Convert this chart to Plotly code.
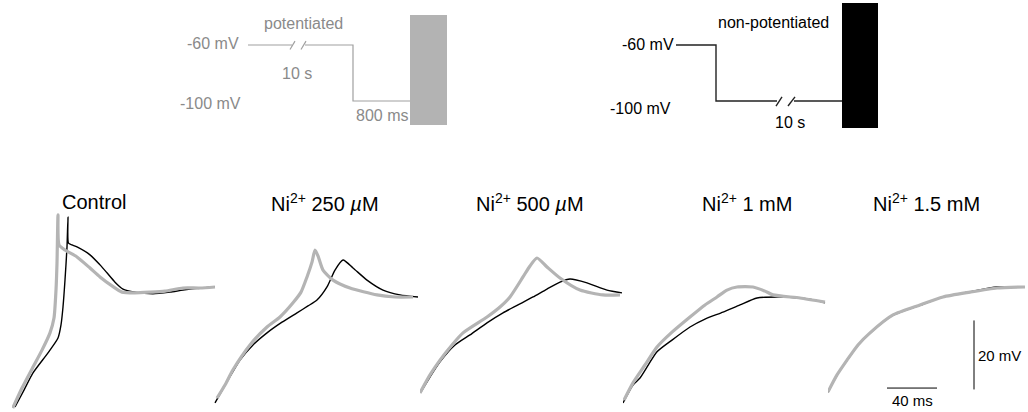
import plotly.graph_objects as go

W, H = 1028, 412

# ---------------- data: voltage traces (time in ms, voltage in mV) ----------------
panel_titles = ["Control", "Ni<sup>2+</sup> 250 <i>µ</i>M", "Ni<sup>2+</sup> 500 <i>µ</i>M",
                "Ni<sup>2+</sup> 1 mM", "Ni<sup>2+</sup> 1.5 mM"]

ctrl_np_t = [2.4, 9.6, 16.8, 28.8, 36.8, 39.2, 40.8, 42.4, 44.0, 44.8, 45.2, 48.0, 52.0, 62.4, 70.4,
             76.0, 82.4, 88.8, 98.4, 112.8, 126.4, 136.8, 150.4, 162.4]
ctrl_np_v = [-100.3, -95.4, -90.4, -84.6, -80.3, -76.5, -71.3, -63.5, -53.9, -45.2, -52.8, -53.3, -53.9,
             -56.2, -59.1, -61.4, -64.1, -66.1, -67.0, -67.5, -67.0, -66.4, -65.8, -65.5]
ctrl_p_t = [0.6, 8.0, 16.8, 24.0, 30.4, 33.6, 35.2, 36.0, 36.8, 37.6, 42.4, 52.0, 62.4, 70.4, 80.0,
            88.0, 98.4, 110.4, 122.4, 136.8, 150.4, 162.4]
ctrl_p_v = [-100.6, -94.8, -88.7, -83.8, -78.8, -74.5, -66.4, -58.6, -44.6, -53.3, -54.8, -56.8, -60.0,
            -62.6, -65.2, -67.0, -67.2, -67.0, -66.7, -65.8, -65.8, -65.5]

n250_np_t = [0.8, 11.2, 20.8, 31.2, 42.4, 54.4, 66.4, 75.2, 82.4, 90.4, 96.8, 103.2, 111.2, 122.4,
             135.2, 148.8, 163.2]
n250_np_v = [-99.1, -92.5, -86.7, -82.3, -78.8, -75.7, -73.0, -71.0, -69.3, -65.5, -60.6, -57.7, -60.0,
             -63.5, -66.4, -67.8, -68.4]
n250_p_t = [2.4, 8.8, 15.2, 28.8, 42.4, 52.8, 63.2, 69.6, 74.4, 78.4, 80.8, 83.2, 87.2, 95.2, 108.8,
            130.4, 144.8, 159.2]
n250_p_v = [-97.7, -93.9, -89.5, -82.3, -77.1, -74.2, -70.1, -67.0, -62.6, -58.3, -54.8, -56.5, -60.6,
            -63.5, -65.8, -67.8, -68.4, -68.4]

n500_np_t = [0.8, 8.0, 16.0, 28.0, 40.0, 53.6, 66.4, 78.4, 90.4, 101.6, 112.0, 120.0, 133.6, 149.6, 161.6]
n500_np_v = [-95.9, -91.6, -87.2, -82.3, -79.4, -75.9, -73.0, -70.7, -68.4, -66.1, -64.1, -63.2, -64.3,
             -66.4, -67.2]
n500_p_t = [0.0, 8.0, 16.0, 25.6, 34.4, 53.6, 64.0, 72.0, 82.4, 88.0, 93.6, 101.6, 112.0, 128.0, 146.4, 160.0]
n500_p_v = [-96.2, -91.0, -86.7, -82.3, -78.8, -74.2, -71.3, -68.4, -62.6, -59.4, -57.1, -59.7, -62.9,
            -66.4, -67.8, -67.8]

n1_np_t = [0.0, 8.0, 13.6, 27.2, 39.2, 53.6, 65.6, 80.0, 93.6, 107.2, 125.6, 141.6, 153.6, 161.6]
n1_np_v = [-99.1, -93.9, -91.9, -84.3, -80.9, -77.1, -74.8, -72.8, -70.7, -68.7, -68.4, -68.7, -69.3, -70.1]
n1_p_t = [0.8, 8.0, 17.6, 27.2, 39.2, 53.6, 65.6, 75.2, 83.2, 91.2, 104.0, 113.6, 120.0, 141.6, 161.6]
n1_p_v = [-98.3, -93.3, -88.1, -82.9, -78.6, -74.2, -70.7, -68.4, -66.4, -65.5, -65.5, -66.7, -67.8,
          -68.7, -69.9]

n15_np_t = [0.0, 7.2, 15.2, 24.0, 33.6, 52.0, 73.6, 92.0, 113.6, 135.2, 155.0]
n15_np_v = [-96.0, -91.1, -86.8, -82.4, -78.9, -73.7, -70.8, -68.4, -66.9, -65.5, -65.6]
n15_p_t = [0.0, 7.2, 15.2, 24.0, 33.6, 52.0, 73.6, 92.0, 113.6, 135.2, 157.6]
n15_p_v = [-95.9, -91.0, -86.7, -82.3, -78.8, -73.6, -70.7, -68.4, -67.0, -65.8, -65.5]

panels = [
    (ctrl_np_t, ctrl_np_v, ctrl_p_t, ctrl_p_v),
    (n250_np_t, n250_np_v, n250_p_t, n250_p_v),
    (n500_np_t, n500_np_v, n500_p_t, n500_p_v),
    (n1_np_t, n1_np_v, n1_p_t, n1_p_v),
    (n15_np_t, n15_np_v, n15_p_t, n15_p_v),
]

# scale bars (ms, mV)
bar_t = [40]
bar_v = [20]

# ---------------- protocol schematics (schematic units, mV) ----------------
proto_levels = [-60, -100]

GRAY_TR = "#b4b4b4"
GRAY_TXT = "#8a8a8a"
GRAY_LINE = "#a0a0a0"
BLACK = "#000000"
FONT = "Liberation Sans, Arial, Helvetica, sans-serif"

fig = go.Figure()

# panel layout
panel_x0 = [12, 214, 420, 623, 828]
px_per_ms = 1.25
px_per_mv = 3.45
y_top_px, y_bot_px = 200, 412
v_bot = -100 + (406 - y_bot_px) / px_per_mv
v_top = v_bot + (y_bot_px - y_top_px) / px_per_mv

layout_axes = {}
for i, (x0, (tn, vn, tp, vp)) in enumerate(zip(panel_x0, panels)):
    k = "" if i == 0 else str(i + 1)
    x1 = min(W, x0 + 205)
    layout_axes["xaxis" + k] = dict(domain=[x0 / W, x1 / W], range=[0, (x1 - x0) / px_per_ms],
                                    visible=False, anchor="y" + k)
    layout_axes["yaxis" + k] = dict(domain=[0, (H - y_top_px) / H], range=[v_bot, v_top],
                                    visible=False, anchor="x" + k)
    fig.add_trace(go.Scatter(x=tn, y=vn, mode="lines",
                             line=dict(color=BLACK, width=1.4, shape="spline", smoothing=0.6),
                             xaxis="x" + k, yaxis="y" + k, showlegend=False, hoverinfo="skip"))
    fig.add_trace(go.Scatter(x=tp, y=vp, mode="lines",
                             line=dict(color=GRAY_TR, width=3.2, shape="spline", smoothing=0.6),
                             xaxis="x" + k, yaxis="y" + k, showlegend=False, hoverinfo="skip"))

# scale bars in last panel
tb0, vb0 = 47.2, -94.8
fig.add_trace(go.Scatter(x=[tb0, tb0 + bar_t[0]], y=[vb0, vb0], mode="lines",
                         line=dict(color=BLACK, width=1), xaxis="x5", yaxis="y5",
                         showlegend=False, hoverinfo="skip"))
fig.add_trace(go.Scatter(x=[116.8, 116.8], y=[-95.2, -95.2 + bar_v[0]], mode="lines",
                         line=dict(color=BLACK, width=1), xaxis="x5", yaxis="y5",
                         showlegend=False, hoverinfo="skip"))

# protocol axes
p_v_top = -60 + 45 / 1.4
p_v_bot = p_v_top - 140 / 1.4
layout_axes["xaxis6"] = dict(domain=[170 / W, 470 / W], range=[0, 300], visible=False, anchor="y6")
layout_axes["yaxis6"] = dict(domain=[1 - 140 / H, 1], range=[p_v_bot, p_v_top], visible=False, anchor="x6")
layout_axes["xaxis7"] = dict(domain=[600 / W, 900 / W], range=[0, 300], visible=False, anchor="y7")
layout_axes["yaxis7"] = dict(domain=[1 - 140 / H, 1], range=[p_v_bot, p_v_top], visible=False, anchor="x7")

hold, hyp = proto_levels
# potentiated (gray)
pot_segments = [
    ([78, 122], [hold, hold]),
    ([120, 125], [hold - 3.2, hold + 2.8]),
    ([131, 136], [hold - 3.2, hold + 2.8]),
    ([135, 183, 183, 240], [hold, hold, hyp, hyp]),
]
for xs, ys in pot_segments:
    fig.add_trace(go.Scatter(x=xs, y=ys, mode="lines", line=dict(color=GRAY_LINE, width=1.2),
                             xaxis="x6", yaxis="y6", showlegend=False, hoverinfo="skip"))
# non-potentiated (black)
np_segments = [
    ([76, 116, 116, 177], [hold, hold, hyp, hyp]),
    ([176, 182], [hyp - 3.6, hyp + 3.0]),
    ([188, 195], [hyp - 3.6, hyp + 3.0]),
    ([194, 242], [hyp, hyp]),
]
for xs, ys in np_segments:
    fig.add_trace(go.Scatter(x=xs, y=ys, mode="lines", line=dict(color="#222222", width=1.4),
                             xaxis="x7", yaxis="y7", showlegend=False, hoverinfo="skip"))

shapes = [
    dict(type="rect", xref="x6", yref="y6", x0=240, x1=277, y0=-117.1, y1=-38.6,
         fillcolor="#b3b3b3", line=dict(width=0), layer="above"),
    dict(type="rect", xref="x7", yref="y7", x0=242, x1=278, y0=-119.3, y1=-30.0,
         fillcolor="#000000", line=dict(width=0), layer="above"),
]

def px(x):
    return x / W

def py(y):
    return 1 - y / H

ann = []
def txt(text, x, y, size, color=BLACK, xanchor="center", yanchor="middle"):
    ann.append(dict(text=text, x=px(x), y=py(y), xref="paper", yref="paper", showarrow=False,
                    xanchor=xanchor, yanchor=yanchor, font=dict(size=size, color=color, family=FONT)))

# protocol labels
txt("potentiated", 303, 24, 16, GRAY_TXT)
txt("-60 mV", 241, 44, 16, GRAY_TXT, xanchor="right")
txt("10 s", 297, 73, 16, GRAY_TXT)
txt("-100 mV", 243, 103, 16, GRAY_TXT, xanchor="right")
txt("800 ms", 382, 115, 16, GRAY_TXT)
txt("non-potentiated", 773, 23, 16)
txt("-60 mV", 676, 45, 16, xanchor="right")
txt("-100 mV", 673, 108, 16, xanchor="right")
txt("10 s", 790, 123, 16)

# panel titles
title_x = [94, 325, 530, 747, 926]
for t, x in zip(panel_titles, title_x):
    txt(t, x, 202, 20)

# scale bar labels
txt(f"{bar_v[0]} mV", 976, 355, 15, xanchor="left")
txt(f"{bar_t[0]} ms", 912, 400, 15)

fig.update_layout(width=W, height=H, margin=dict(l=0, r=0, t=0, b=0),
                  paper_bgcolor="white", plot_bgcolor="rgba(0,0,0,0)",
                  shapes=shapes, annotations=ann, **layout_axes)

fig.write_html("out.html", config={"displayModeBar": False, "staticPlot": True},
               post_script="document.body.style.margin='0';document.body.style.padding='0';")
